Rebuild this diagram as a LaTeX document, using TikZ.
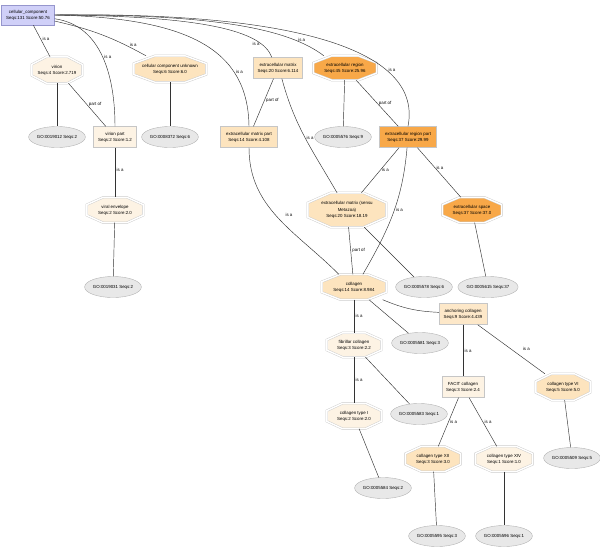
\documentclass[tikz,border=0pt]{standalone}
\usepackage{fontspec}
\setmainfont{Liberation Sans}
\usetikzlibrary{calc,shapes.geometric}
\pgfdeclarelayer{background}
\pgfsetlayers{background,main}

\definecolor{lavender}{RGB}{208,208,248}
\definecolor{lavline}{RGB}{150,150,205}
\definecolor{hiorange}{RGB}{248,168,72}
\definecolor{midorange}{RGB}{253,228,190}
\definecolor{loworange}{RGB}{253,243,228}
\definecolor{goline}{RGB}{178,178,178}
\definecolor{gofill}{RGB}{232,232,232}

% octagon: name, position, width, height, fill, text
\newcommand{\octnode}[6]{%
  \node[octtext, minimum width=#3, minimum height=#4] (#1) at (#2) {#6};
  \begin{pgfonlayer}{background}
    \draw[octline, fill=#5]
      ($(#1.north west)!.29!(#1.north east)$) -- ($(#1.north west)!.71!(#1.north east)$)
      -- ($(#1.north east)!.29!(#1.south east)$) -- ($(#1.north east)!.71!(#1.south east)$)
      -- ($(#1.south east)!.29!(#1.south west)$) -- ($(#1.south east)!.71!(#1.south west)$)
      -- ($(#1.south west)!.29!(#1.north west)$) -- ($(#1.south west)!.71!(#1.north west)$)
      -- cycle;
  \end{pgfonlayer}}

\begin{document}
\begin{tikzpicture}[x=1pt, y=1pt,
    txt/.style={font=\fontsize{4.4}{6.2}\selectfont, align=center},
    octtext/.style={txt, inner sep=0pt},
    octline/.style={draw=gray!40, line width=.45pt, double=white, double distance=1.4pt},
    rbox/.style={txt, draw=gray!45, line width=.4pt, inner sep=1pt, minimum height=21pt},
    gobox/.style={txt, ellipse, draw=goline, fill=gofill, line width=.4pt, inner sep=0pt,
      minimum width=54pt, minimum height=21pt},
    link/.style={draw=black!80, line width=.45pt},
    rel/.style={font=\fontsize{4.4}{5}\selectfont, inner sep=1.5pt}]
  \useasboundingbox (0,0) rectangle (600,-549);

  \node[rbox, fill=lavender, draw=lavline, minimum width=53pt, minimum height=20pt] (cc) at (28,-15)
    {cellular\_component\\Seqs:131 Score:50.76};
  \octnode{virion}{57,-70}{50pt}{26pt}{loworange}{virion\\Seqs:4 Score:2.719}
  \octnode{ccu}{170,-69}{72pt}{26pt}{midorange}{cellular component unknown\\Seqs:6 Score:6.0}
  \node[rbox, fill=loworange, minimum width=43pt] (vpart) at (115,-137) {virion part\\Seqs:2 Score:1.2};
  \node[gobox] (go19012) at (57,-137) {GO:0019012 Seqs:2};
  \node[gobox] (go8372) at (170,-137) {GO:0008372 Seqs:6};
  \node[rbox, fill=midorange, minimum width=49pt] (ecm) at (278,-68) {extracellular matrix\\Seqs:20 Score:6.114};
  \octnode{ecr}{345,-68}{63pt}{24pt}{hiorange}{extracellular region\\Seqs:45 Score:25.96}
  \node[rbox, fill=midorange, minimum width=57pt] (ecmpart) at (249,-137) {extracellular matrix part\\Seqs:14 Score:4.108};
  \node[gobox] (go5576) at (343,-137) {GO:0005576 Seqs:9};
  \node[rbox, fill=hiorange, minimum width=57pt] (ecrpart) at (408,-137) {extracellular region part\\Seqs:37 Score:29.99};
  \octnode{ecmmeta}{347,-210}{78pt}{34pt}{midorange}{extracellular matrix (sensu\\Metazoa)\\Seqs:20 Score:18.19}
  \octnode{ecspace}{472,-210}{59pt}{25pt}{hiorange}{extracellular space\\Seqs:37 Score:37.0}
  \octnode{venv}{115,-210}{56pt}{25pt}{loworange}{viral envelope\\Seqs:2 Score:2.0}
  \node[gobox] (go19031) at (113,-287) {GO:0019031 Seqs:2};
  \node[gobox] (go5578) at (424,-287) {GO:0005578 Seqs:6};
  \node[gobox, minimum width=57pt] (go5615) at (488,-287) {GO:0005615 Seqs:37};
  \octnode{collagen}{354,-287}{64pt}{25pt}{midorange}{collagen\\Seqs:14 Score:8.984}
  \node[rbox, fill=midorange!70!loworange, minimum width=48pt] (anchor) at (463,-314) {anchoring collagen\\Seqs:9 Score:4.439};
  \octnode{fibril}{354,-345}{54pt}{24pt}{loworange}{fibrillar collagen\\Seqs:3 Score:2.2}
  \node[gobox] (go5581) at (420,-343) {GO:0005581 Seqs:3};
  \node[rbox, fill=loworange, minimum width=42pt] (facit) at (463,-387) {FACIT collagen\\Seqs:3 Score:2.4};
  \octnode{col6}{563,-387}{54pt}{26pt}{midorange}{collagen type VI\\Seqs:5 Score:5.0}
  \node[gobox] (go5583) at (419,-414) {GO:0005583 Seqs:1};
  \octnode{col1}{354,-416}{54pt}{25pt}{loworange}{collagen type I\\Seqs:2 Score:2.0}
  \node[gobox] (go5584) at (383,-488) {GO:0005584 Seqs:2};
  \octnode{col12}{433,-459}{55pt}{25pt}{midorange}{collagen type XII\\Seqs:3 Score:3.0}
  \octnode{col14}{504,-459}{57pt}{25pt}{loworange}{collagen type XIV\\Seqs:1 Score:1.0}
  \node[gobox] (go5509) at (572,-458) {GO:0005509 Seqs:5};
  \node[gobox] (go5595) at (437,-536) {GO:0005595 Seqs:3};
  \node[gobox] (go5596) at (504,-536) {GO:0005596 Seqs:1};

  % relations from the root
  \draw[link] (cc) -- node[rel, right, pos=.45] {is a} (virion);
  \draw[link] (cc) to[out=-8, in=90] node[rel, right, pos=.5] {is a} (vpart);
  \draw[link] (cc) to[bend left=8] node[rel, above right=-1pt, pos=.82] {is a} (ccu);
  \draw[link] (cc.east) .. controls (190,-18) and (248,-50) .. node[rel, right, pos=.72] {is a} (ecmpart.north);
  \draw[link] (cc.east) .. controls (200,-16) and (262,-30) .. node[rel, left, pos=.82] {is a} (ecm.120);
  \draw[link] (cc.east) .. controls (220,-14) and (290,-30) .. node[rel, above, pos=.82] {is a} (ecr.150);
  \draw[link] (cc.east) .. controls (260,-12) and (425,-40) .. node[rel, right, pos=.74] {is a} (ecrpart.north);

  \draw[link] (virion) -- (go19012);
  \draw[link] (virion) -- node[rel, right, pos=.5] {part of} (vpart);
  \draw[link] (ccu) -- (go8372);
  \draw[link] (vpart) -- node[rel, right, pos=.45] {is a} (venv);
  \draw[link] (venv) -- (go19031);

  \draw[link] (ecm) -- node[rel, right, pos=.45] {part of} (ecmpart);
  \draw[link] (ecm.-70) to[out=-75, in=120] node[rel, right, pos=.5] {is a} (ecmmeta.120);
  \draw[link] (ecr) -- (go5576);
  \draw[link] (ecr) -- node[rel, right, pos=.5] {part of} (ecrpart);
  \draw[link] (ecrpart) -- node[rel, right, pos=.5] {is a} (ecmmeta);
  \draw[link] (ecrpart) -- node[rel, right, pos=.4] {is a} (ecspace);
  \draw[link] (ecrpart) to[out=-95, in=60] node[rel, right, pos=.47] {is a} (collagen.55);
  \draw[link] (ecmpart) to[out=-90, in=135] node[rel, right=8pt, pos=.48] {is a} (collagen.140);
  \draw[link] (ecmmeta) -- node[rel, right, pos=.5] {part of} (collagen);
  \draw[link] (ecmmeta) -- (go5578);
  \draw[link] (ecspace) -- (go5615);

  % collagen subtree
  \draw[link] (collagen) to[bend right=10] (anchor);
  \draw[link] (collagen) -- (go5581);
  \draw[link] (collagen) -- node[rel, right, pos=.5] {is a} (fibril);
  \draw[link] (fibril) -- (go5583);
  \draw[link] (fibril) -- node[rel, right, pos=.5] {is a} (col1);
  \draw[link] (col1) -- (go5584);
  \draw[link] (anchor) -- node[rel, right, pos=.5] {is a} (facit);
  \draw[link] (anchor) -- node[rel, right=10pt, pos=.5] {is a} (col6);
  \draw[link] (facit) -- node[rel, right, pos=.5] {is a} (col12);
  \draw[link] (facit) -- node[rel, right, pos=.5] {is a} (col14);
  \draw[link] (col6) -- (go5509);
  \draw[link] (col12) -- (go5595);
  \draw[link] (col14) -- (go5596);
\end{tikzpicture}
\end{document}
